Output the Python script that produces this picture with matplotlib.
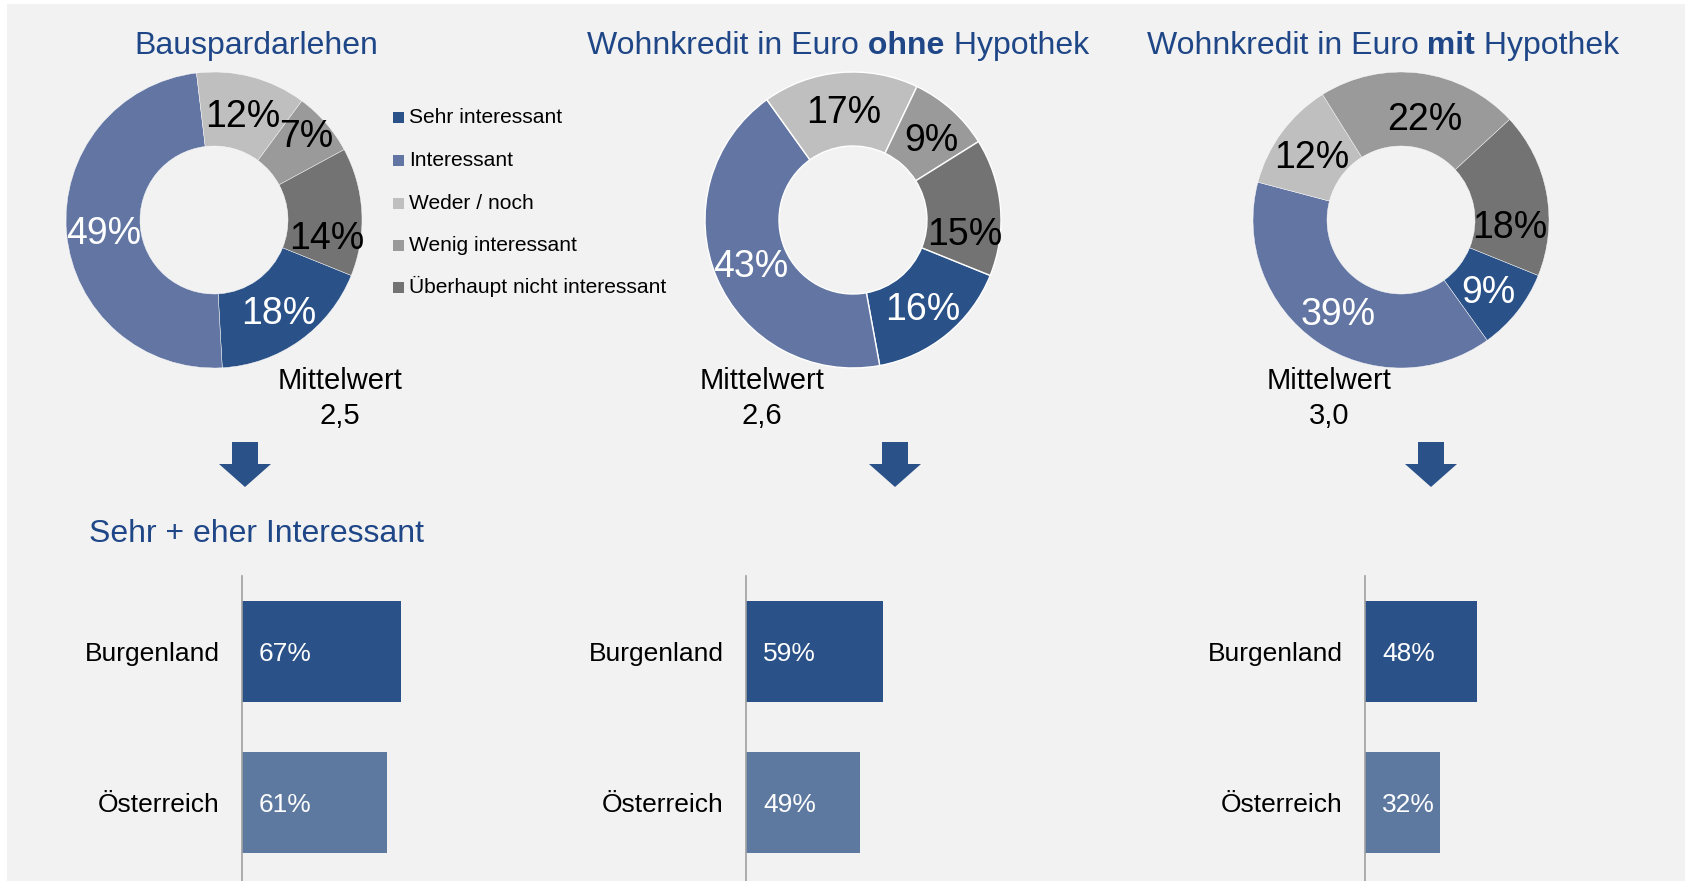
import matplotlib
matplotlib.use("Agg")
import matplotlib.pyplot as plt
from matplotlib.patches import Rectangle, Polygon
from matplotlib.transforms import offset_copy

plt.rcParams['font.family'] = ['Liberation Sans', 'DejaVu Sans']

# ---------------- data ----------------
categories = ["Sehr interessant", "Interessant", "Weder / noch",
              "Wenig interessant", "Überhaupt nicht interessant"]
bauspar = [18, 49, 12, 7, 14]
ohne_hyp = [16, 43, 17, 9, 15]
mit_hyp = [9, 39, 12, 22, 18]
mittelwerte = ["2,5", "2,6", "3,0"]

regions = ["Burgenland", "Österreich"]
bar_bauspar = [67, 61]
bar_ohne = [59, 49]
bar_mit = [48, 32]

title_parts = [
    [("Bauspardarlehen", "normal")],
    [("Wohnkredit in Euro", "normal"), (" ohne", "bold"), (" Hypothek", "normal")],
    [("Wohnkredit in Euro", "normal"), (" mit", "bold"), (" Hypothek", "normal")],
]
bar_title = "Sehr + eher Interessant"
mittel_label = "Mittelwert"

# ---------------- style ----------------
seg_colors = ["#2a5288", "#6376a3", "#bfbfbf", "#9a9a9a", "#737373"]
label_colors = ["white", "white", "black", "black", "black"]
bar_colors = ["#2a5288", "#5e79a0"]
title_blue = "#1f4788"
bg = "#f2f2f2"

# label nudges (pixels, +x right, +y down) per donut and segment
label_nudge = [
    [(0, 0), (0, 0), (0, 0), (8, -14), (2, 21)],
    [(0, 0), (0, 0), (0, 0), (4, 0), (1, 21)],
    [(0, 0), (0, 0), (0, 0), (9, 6), (0, 24)],
]
edge_widths = [0.3, 1.0, 0.3]

W, H = 1685, 881
fig = plt.figure(figsize=(W / 100, H / 100), dpi=100, facecolor="white")


def fx(x):
    return x / W


def fy(y):
    return 1 - y / H


# grey panel
fig.patches.append(Rectangle((fx(7), 0), 1 - fx(7), fy(4), transform=fig.transFigure,
                             facecolor=bg, edgecolor="none", zorder=-10))

# ---------------- donuts ----------------
donut_data = [bauspar, ohne_hyp, mit_hyp]
centers = [(214, 220), (853, 220), (1401, 220)]
R = 148
for vals, (cx, cy), nudges, ew in zip(donut_data, centers, label_nudge, edge_widths):
    ax = fig.add_axes([fx(cx - R), fy(cy + R), 2 * R / W, 2 * R / H])
    ax.set_facecolor("none")
    wedges, texts, autot = ax.pie(
        vals, colors=seg_colors, startangle=-22, counterclock=False,
        wedgeprops=dict(width=0.5, edgecolor="white", linewidth=ew),
        autopct=lambda p: f"{int(round(p))}%", pctdistance=0.75,
        textprops=dict(fontsize=27))
    for t, c, (dx, dy) in zip(autot, label_colors, nudges):
        t.set_color(c)
        t.set_va("center_baseline")
        t.set_transform(offset_copy(ax.transData, fig=fig, x=dx, y=-dy, units="dots"))
    ax.set_xlim(-1, 1)
    ax.set_ylim(-1, 1)
    ax.set_aspect("equal")
    ax.axis("off")

# ---------------- titles ----------------
title_cx = [256, 838, 1383]
renderer = fig.canvas.get_renderer()
for parts, cx in zip(title_parts, title_cx):
    texts = []
    for s, w in parts:
        t = fig.text(0, fy(54), s, fontsize=23, fontweight=w, color=title_blue,
                     ha="left", va="baseline")
        texts.append(t)
    widths = [t.get_window_extent(renderer).width for t in texts]
    x = cx - sum(widths) / 2
    for t, wd in zip(texts, widths):
        t.set_x(fx(x))
        x += wd

# ---------------- Mittelwert ----------------
mw_cx = [340, 762, 1329]
for cx, mv in zip(mw_cx, mittelwerte):
    fig.text(fx(cx), fy(389), mittel_label, fontsize=21, ha="center", va="baseline")
    fig.text(fx(cx), fy(424), mv, fontsize=21, ha="center", va="baseline")

# ---------------- legend ----------------
leg_base = [123, 166, 209, 251, 293]
for lab, col, yb in zip(categories, seg_colors, leg_base):
    fig.patches.append(Rectangle((fx(393), fy(yb)), 11 / W, 11 / H,
                                 transform=fig.transFigure, facecolor=col,
                                 edgecolor="none"))
    fig.text(fx(409), fy(yb), lab, fontsize=15.1, ha="left", va="baseline")

# ---------------- arrows ----------------
arrow_cx = [245, 895, 1431]
for cx in arrow_cx:
    pts = [(cx - 13, 442), (cx + 13, 442), (cx + 13, 464), (cx + 26, 464),
           (cx, 487), (cx - 26, 464), (cx - 13, 464)]
    fig.patches.append(Polygon([(fx(px), fy(py)) for px, py in pts], closed=True,
                               transform=fig.transFigure, facecolor="#2a5288",
                               edgecolor="none"))

fig.text(fx(89), fy(542), bar_title, fontsize=23, color=title_blue,
         ha="left", va="baseline")

# ---------------- bars ----------------
bar_data = [bar_bauspar, bar_ohne, bar_mit]
axis_x = [242, 746, 1365]
px_per_pct = [2.37, 2.32, 2.33]
top, bottom = 576, 881
for vals, x0, ppp in zip(bar_data, axis_x, px_per_pct):
    ax = fig.add_axes([fx(x0), fy(bottom), 100 * ppp / W, (bottom - top) / H])
    ax.set_facecolor("none")
    ypos = list(range(len(regions)))
    ax.barh(ypos, vals, height=0.67, color=bar_colors)
    ax.set_xlim(0, 100)
    ax.set_ylim(1.52, -0.5)
    ax.set_yticks(ypos)
    ax.set_yticklabels(regions, fontsize=19)
    ax.tick_params(axis="y", length=0, pad=16)
    ax.set_xticks([])
    for s in ["top", "right", "bottom"]:
        ax.spines[s].set_visible(False)
    ax.spines["left"].set_color("#a0a0a0")
    ax.spines["left"].set_linewidth(1.2)
    for y, v in zip(ypos, vals):
        ax.annotate(f"{v}%", xy=(0, y), xytext=(17, 0), textcoords="offset pixels",
                    color="white", fontsize=19, ha="left", va="center_baseline")

fig.savefig("out.png", dpi=100, facecolor=fig.get_facecolor())
